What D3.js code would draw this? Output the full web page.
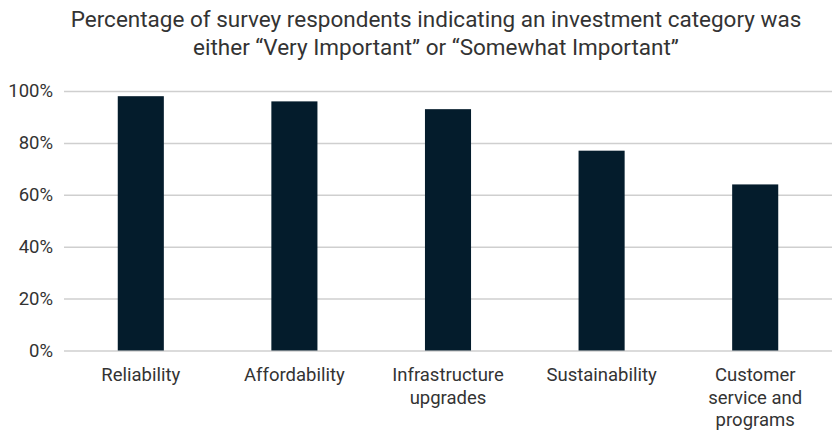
<!DOCTYPE html>
<html>
<head>
<meta charset="utf-8">
<script src="https://cdn.jsdelivr.net/npm/d3@7/dist/d3.min.js"></script>
<style>
  html, body { margin: 0; padding: 0; background: #fff; }
  svg { display: block; font-family: Roboto, "Noto Sans", sans-serif; }
</style>
</head>
<body>
<svg id="chart" width="832" height="430"></svg>
<script>
// Survey results: share rating each category as important
const categories = [
  ["Reliability"],
  ["Affordability"],
  ["Infrastructure", "upgrades"],
  ["Sustainability"],
  ["Customer", "service and", "programs"]
];
const values = [98, 96, 93, 77, 64];
const yTicks = [0, 20, 40, 60, 80, 100];
const titleLines = [
  "Percentage of survey respondents indicating an investment category was",
  "either \u201cVery Important\u201d or \u201cSomewhat Important\u201d"
];

const svg = d3.select("#chart");
const margin = { top: 91, right: 0, bottom: 79.5, left: 64 };
const width = 832, height = 430;

const x = d3.scaleBand()
  .domain(d3.range(categories.length))
  .range([margin.left, width - margin.right])
  .paddingInner(0.7)
  .paddingOuter(0.35);

const y = d3.scaleLinear()
  .domain([0, 100])
  .range([height - margin.bottom, margin.top]);

// Title
svg.append("g")
  .selectAll("text")
  .data(titleLines)
  .join("text")
  .attr("x", 436)
  .attr("y", (d, i) => 27 + i * 28)
  .attr("text-anchor", "middle")
  .attr("fill", "#333")
  .style("font-size", "22.5px")
  .text(d => d);

// Gridlines and y labels
const yAxis = d3.axisLeft(y)
  .tickValues(yTicks)
  .tickSize(-(width - margin.left - margin.right))
  .tickPadding(11)
  .tickFormat(d => d + "%");

const gy = svg.append("g")
  .attr("transform", `translate(${margin.left},0)`)
  .call(yAxis);
gy.select(".domain").remove();
gy.selectAll(".tick line")
  .attr("stroke", "#cfcfcf")
  .attr("stroke-width", 1.5);
gy.selectAll(".tick text")
  .attr("fill", "#333")
  .style("font-size", "18.5px")
  .style("font-family", "Roboto, sans-serif");

// Bars
svg.append("g")
  .selectAll("rect")
  .data(values)
  .join("rect")
  .attr("x", (d, i) => x(i))
  .attr("width", x.bandwidth())
  .attr("y", d => y(d))
  .attr("height", d => y(0) - y(d))
  .attr("fill", "#041c2c");

// Category labels
const xAxis = d3.axisBottom(x).tickSize(0).tickPadding(0).tickFormat("");
const gx = svg.append("g")
  .attr("transform", `translate(0,${y(0)})`)
  .call(xAxis);
gx.select(".domain").remove();
gx.selectAll(".tick").each(function(i) {
  const t = d3.select(this).append("text")
    .attr("text-anchor", "middle")
    .attr("fill", "#333")
    .style("font-size", "18.5px")
    .style("font-family", "Roboto, sans-serif");
  categories[i].forEach((line, k) => {
    t.append("tspan")
      .attr("x", 0)
      .attr("y", 30.5 + k * 22.5)
      .text(line);
  });
});
</script>
</body>
</html>
